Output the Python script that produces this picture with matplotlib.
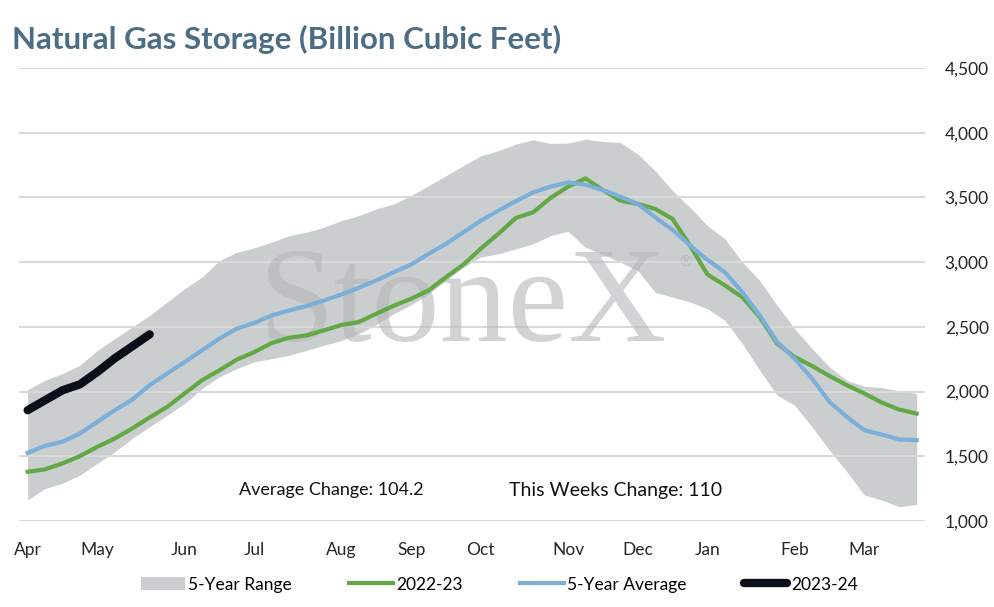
import matplotlib.pyplot as plt
from matplotlib.ticker import FuncFormatter, FixedLocator

# weekly storage, Bcf (week 0 = first week of April)
range_hi = [2015, 2087, 2139, 2203, 2318, 2409, 2498, 2588, 2691, 2794,
            2884, 3012, 3076, 3110, 3154, 3205, 3231, 3269, 3321, 3359,
            3411, 3450, 3514, 3591, 3668, 3745, 3822, 3860, 3912, 3945,
            3917, 3920, 3950, 3932, 3925, 3835, 3706, 3552, 3423, 3282,
            3180, 3000, 2858, 2665, 2486, 2332, 2190, 2087, 2041, 2031,
            2005, 1985]
range_lo = [1162, 1252, 1291, 1355, 1445, 1534, 1638, 1727, 1817, 1907,
            2023, 2113, 2177, 2230, 2254, 2280, 2318, 2357, 2395, 2447,
            2519, 2601, 2670, 2755, 2858, 2961, 3040, 3064, 3102, 3141,
            3205, 3238, 3115, 3059, 2999, 2935, 2768, 2729, 2691, 2640,
            2550, 2370, 2164, 1972, 1894, 1727, 1547, 1380, 1200, 1162,
            1110, 1129]
y2022 = [1380, 1399, 1445, 1501, 1573, 1637, 1715, 1800, 1881, 1985,
         2087, 2164, 2247, 2305, 2375, 2416, 2434, 2473, 2514, 2537,
         2601, 2663, 2717, 2781, 2884, 2981, 3105, 3218, 3341, 3385,
         3496, 3583, 3647, 3557, 3475, 3450, 3411, 3334, 3128, 2905,
         2820, 2729, 2575, 2370, 2267, 2198, 2120, 2049, 1985, 1915,
         1861, 1830]
avg5 = [1527, 1581, 1612, 1676, 1766, 1856, 1938, 2049, 2139, 2228,
        2318, 2409, 2486, 2530, 2588, 2627, 2660, 2704, 2750, 2802,
        2858, 2922, 2981, 3064, 3141, 3231, 3320, 3398, 3470, 3539,
        3583, 3616, 3598, 3557, 3506, 3450, 3346, 3249, 3128, 3018,
        2922, 2768, 2588, 2383, 2254, 2100, 1920, 1804, 1702, 1668,
        1630, 1625]
y2023 = [1856, 1933, 2010, 2056, 2151, 2257, 2349, 2442]

months = ['Apr', 'May', 'Jun', 'Jul', 'Aug', 'Sep', 'Oct', 'Nov', 'Dec', 'Jan', 'Feb', 'Mar']
month_week = [0, 4, 9, 13, 18, 22, 26, 31, 35, 39, 44, 48]

avg_change = 104.2
week_change = 110

plt.rcParams['font.family'] = ['Lato', 'DejaVu Sans']

fig = plt.figure(figsize=(9.95, 6.07), dpi=100)
ax = fig.add_axes([0.019, 0.1417, 0.911, 0.7463])

weeks = list(range(len(y2022)))
ax.fill_between(weeks, range_lo, range_hi, color='#cbcecf', linewidth=0, label='5-Year Range', zorder=1)
ax.plot(weeks, y2022, color='#62a844', lw=3, label='2022-23', zorder=3)
ax.plot(weeks, avg5, color='#7bafd9', lw=3, label='5-Year Average', zorder=3)
ax.plot(range(len(y2023)), y2023, color='#0a0f1a', lw=6, solid_capstyle='round', label='2023-24', zorder=4)

ax.set_xlim(-0.5, 51.5)
ax.set_ylim(1000, 4500)
ax.set_axisbelow('line')
ax.yaxis.set_major_locator(FixedLocator(range(1000, 4501, 500)))
ax.yaxis.set_major_formatter(FuncFormatter(lambda v, p: f'{int(v):,}'))
ax.yaxis.tick_right()
ax.grid(axis='y', color='#d9d9d9', lw=1.5)
ax.set_xticks(month_week)
ax.set_xticklabels(months)
ax.tick_params(axis='both', length=0, labelsize=12.5, colors='#262626')
ax.tick_params(axis='x', pad=15)
ax.tick_params(axis='y', pad=14)
for s in ax.spines.values():
    s.set_visible(False)

# watermark
ax.text(0.49, 0.47, 'StoneX', transform=ax.transAxes, ha='center', va='center',
        fontsize=98, family='Liberation Serif', color='#b4b6b9',
        alpha=0.6, zorder=2)
ax.text(0.735, 0.57, '®', transform=ax.transAxes, ha='center', va='center',
        fontsize=11, color='#b4b6b9', alpha=0.7, zorder=2)

ax.text(0.345, 0.068, f'Average Change: {avg_change}', transform=ax.transAxes,
        ha='center', va='center', fontsize=13, color='#111111')
ax.text(0.658, 0.068, f'This Weeks Change: {week_change}', transform=ax.transAxes,
        ha='center', va='center', fontsize=14, color='#111111')

fig.text(0.012, 0.935, 'Natural Gas Storage (Billion Cubic Feet)', fontsize=22.5,
         fontweight='bold', color='#4b6e86', ha='left', va='center')

fig.legend(loc='center', bbox_to_anchor=(0.502, 0.037), ncol=4, frameon=False,
           fontsize=12.5, handlelength=2.5, handletextpad=0.2, columnspacing=3.3)

fig.savefig('out.png', dpi=100)
